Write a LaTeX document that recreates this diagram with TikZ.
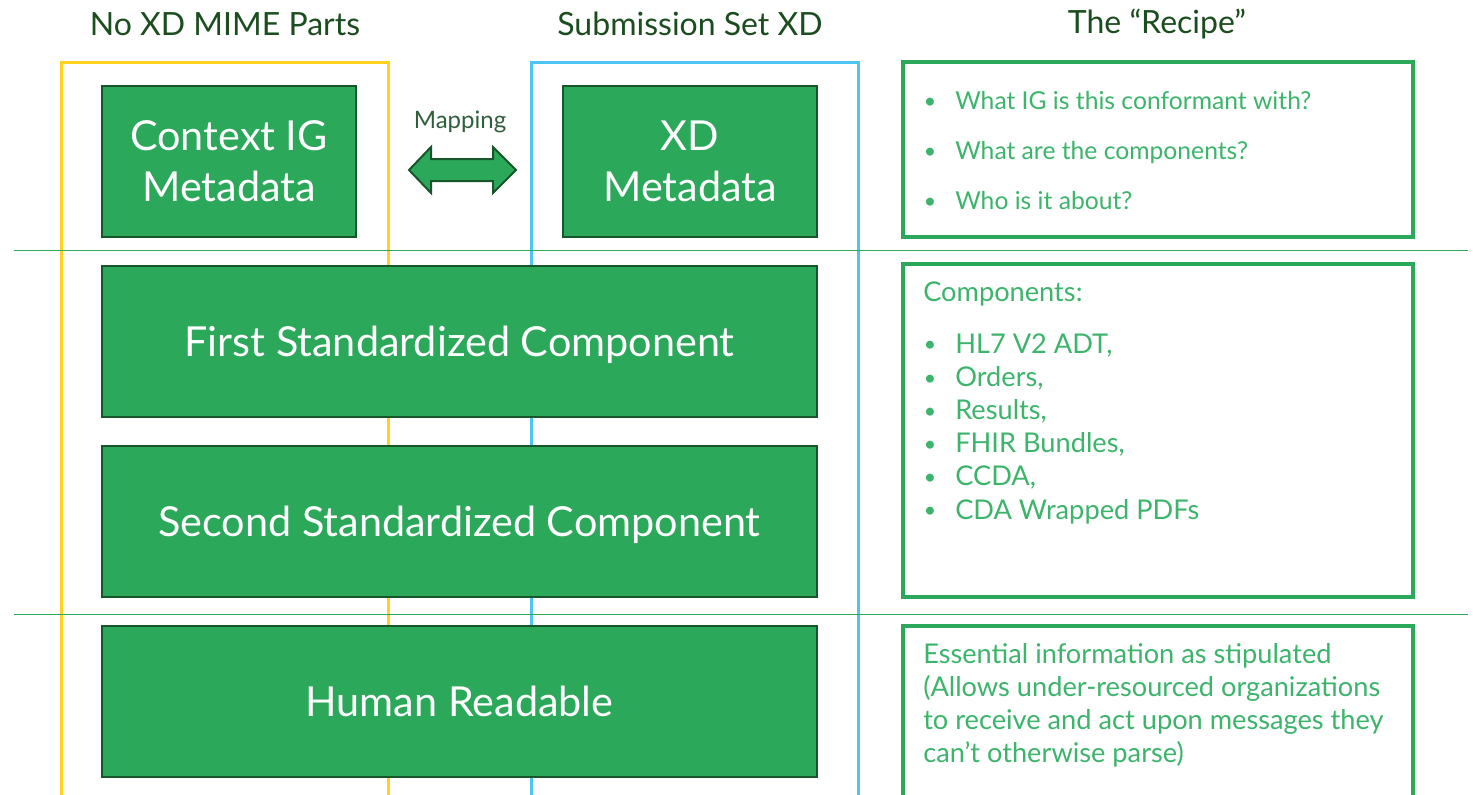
\documentclass[tikz,border=0pt]{standalone}
\usepackage{fontspec}
\setmainfont{Lato}
\usetikzlibrary{positioning}
\definecolor{boxgreen}{HTML}{2BA859}
\definecolor{edgegreen}{HTML}{17562A}
\definecolor{headgreen}{HTML}{1B4D1E}
\definecolor{notegreen}{HTML}{3DB46B}
\definecolor{xdyellow}{HTML}{FFD21F}
\definecolor{xdblue}{HTML}{4EC4F0}
\definecolor{mapgreen}{HTML}{2F5F3B}
\newcommand{\rbul}{\makebox[24pt][l]{\hspace*{0.5pt}\raisebox{0.05em}{\fontsize{16}{16}\selectfont\textbullet}}}
\tikzset{
    x=0.75pt,
    y=-0.75pt,
    heading/.style = {
        text=headgreen,
        font=\fontsize{24}{28}\selectfont
    },
    part/.style = {
        draw=edgegreen,
        fill=boxgreen,
        shape=rectangle,
        line width=1.5pt,
        text=white,
        align=center,
        text depth=0pt,
        minimum height=113.25pt,
        font=\fontsize{31}{38.25}\selectfont
    },
    smallpart/.style = {
        part,
        minimum width=190.5pt
    },
    widepart/.style = {
        part,
        minimum width=536.25pt
    },
    recipe/.style = {
        draw=boxgreen,
        shape=rectangle,
        line width=3pt,
        minimum width=382.5pt
    },
    note/.style = {
        text=notegreen,
        align=left,
        inner sep=0pt,
        font=\fontsize{20.4}{24.9}\selectfont
    },
    frame/.style = {
        line width=2.25pt
    },
    divider/.style = {
        draw=boxgreen,
        line width=0.75pt
    },
    maparrow/.style = {
        draw=edgegreen,
        fill=boxgreen,
        line width=1.5pt,
        line join=miter
    },
}

\begin{document}
\begin{tikzpicture}
            \useasboundingbox[fill=white] (0,0) rectangle (1473,794);
            \clip (0,0) rectangle (1473,794);

            \node[heading] (hdnone) at (225,24) {No XD MIME Parts};
            \node[heading] (hdset) at (690,24) {Submission Set XD};
            \node[heading] (hdrecipe) at (1157,24) {The “Recipe”};

            % the two XD frames
            \path[draw=xdyellow, frame] (61,800) |- (388,62) -- (388,800);
            \path[draw=xdblue, frame] (531,800) |- (858,62) -- (858,800);

            \path[divider] (14,250) -- (1468,250);
            \path[divider] (14,614) -- (1468,614);

            \node[smallpart] (ctxmeta) at (229,161.5) {Context IG\\Metadata};
            \node[smallpart] (xdmeta) at (690,161.5) {XD\\Metadata};
            \node[widepart] (firstcomp) at (459.5,341.5) {First Standardized Component};
            \node[widepart] (secondcomp) at (459.5,521.5) {Second Standardized Component};
            \node[widepart] (humanread) at (459.5,701.5) {Human Readable};

            % mapping double arrow
            \coordinate (maparr) at (409,170);
            \path[maparrow] (maparr) -- ++(22,-23) -- ++(0,12) -- ++(62,0) -- ++(0,-12) -- ++(23,23)
                -- ++(-23,23) -- ++(0,-12) -- ++(-62,0) -- ++(0,12) -- cycle;
            \node[text=mapgreen, font=\fontsize{18}{20}\selectfont] (maplbl) at (460,122) {Mapping};

            \node[recipe, minimum height=131.25pt] (recipeig) at (1158,149.5) {};
            \node[recipe, minimum height=249.75pt] (recipecomp) at (1158,430.5) {};
            \node[recipe, minimum height=156pt] (recipehr) at (1158,730) {};

            \node[note, anchor=west, font=\fontsize{18.5}{37.5}\selectfont] (igqs) at (923,151)
                {\rbul What IG is this conformant with?\\\rbul What are the components?\\\rbul Who is it about?};
            \node[note, anchor=north west] (complist) at (923,282)
                {Components:\\[13.5pt]\rbul HL7 V2 ADT,\\\rbul Orders,\\\rbul Results,\\\rbul FHIR Bundles,\\\rbul CCDA,\\\rbul CDA Wrapped PDFs};
            \node[note, anchor=north west] (hrnote) at (923,643)
                {Essential information as stipulated\\(Allows under-resourced organizations\\to receive and act upon messages they\\can’t otherwise parse)};

        \end{tikzpicture}
\end{document}
